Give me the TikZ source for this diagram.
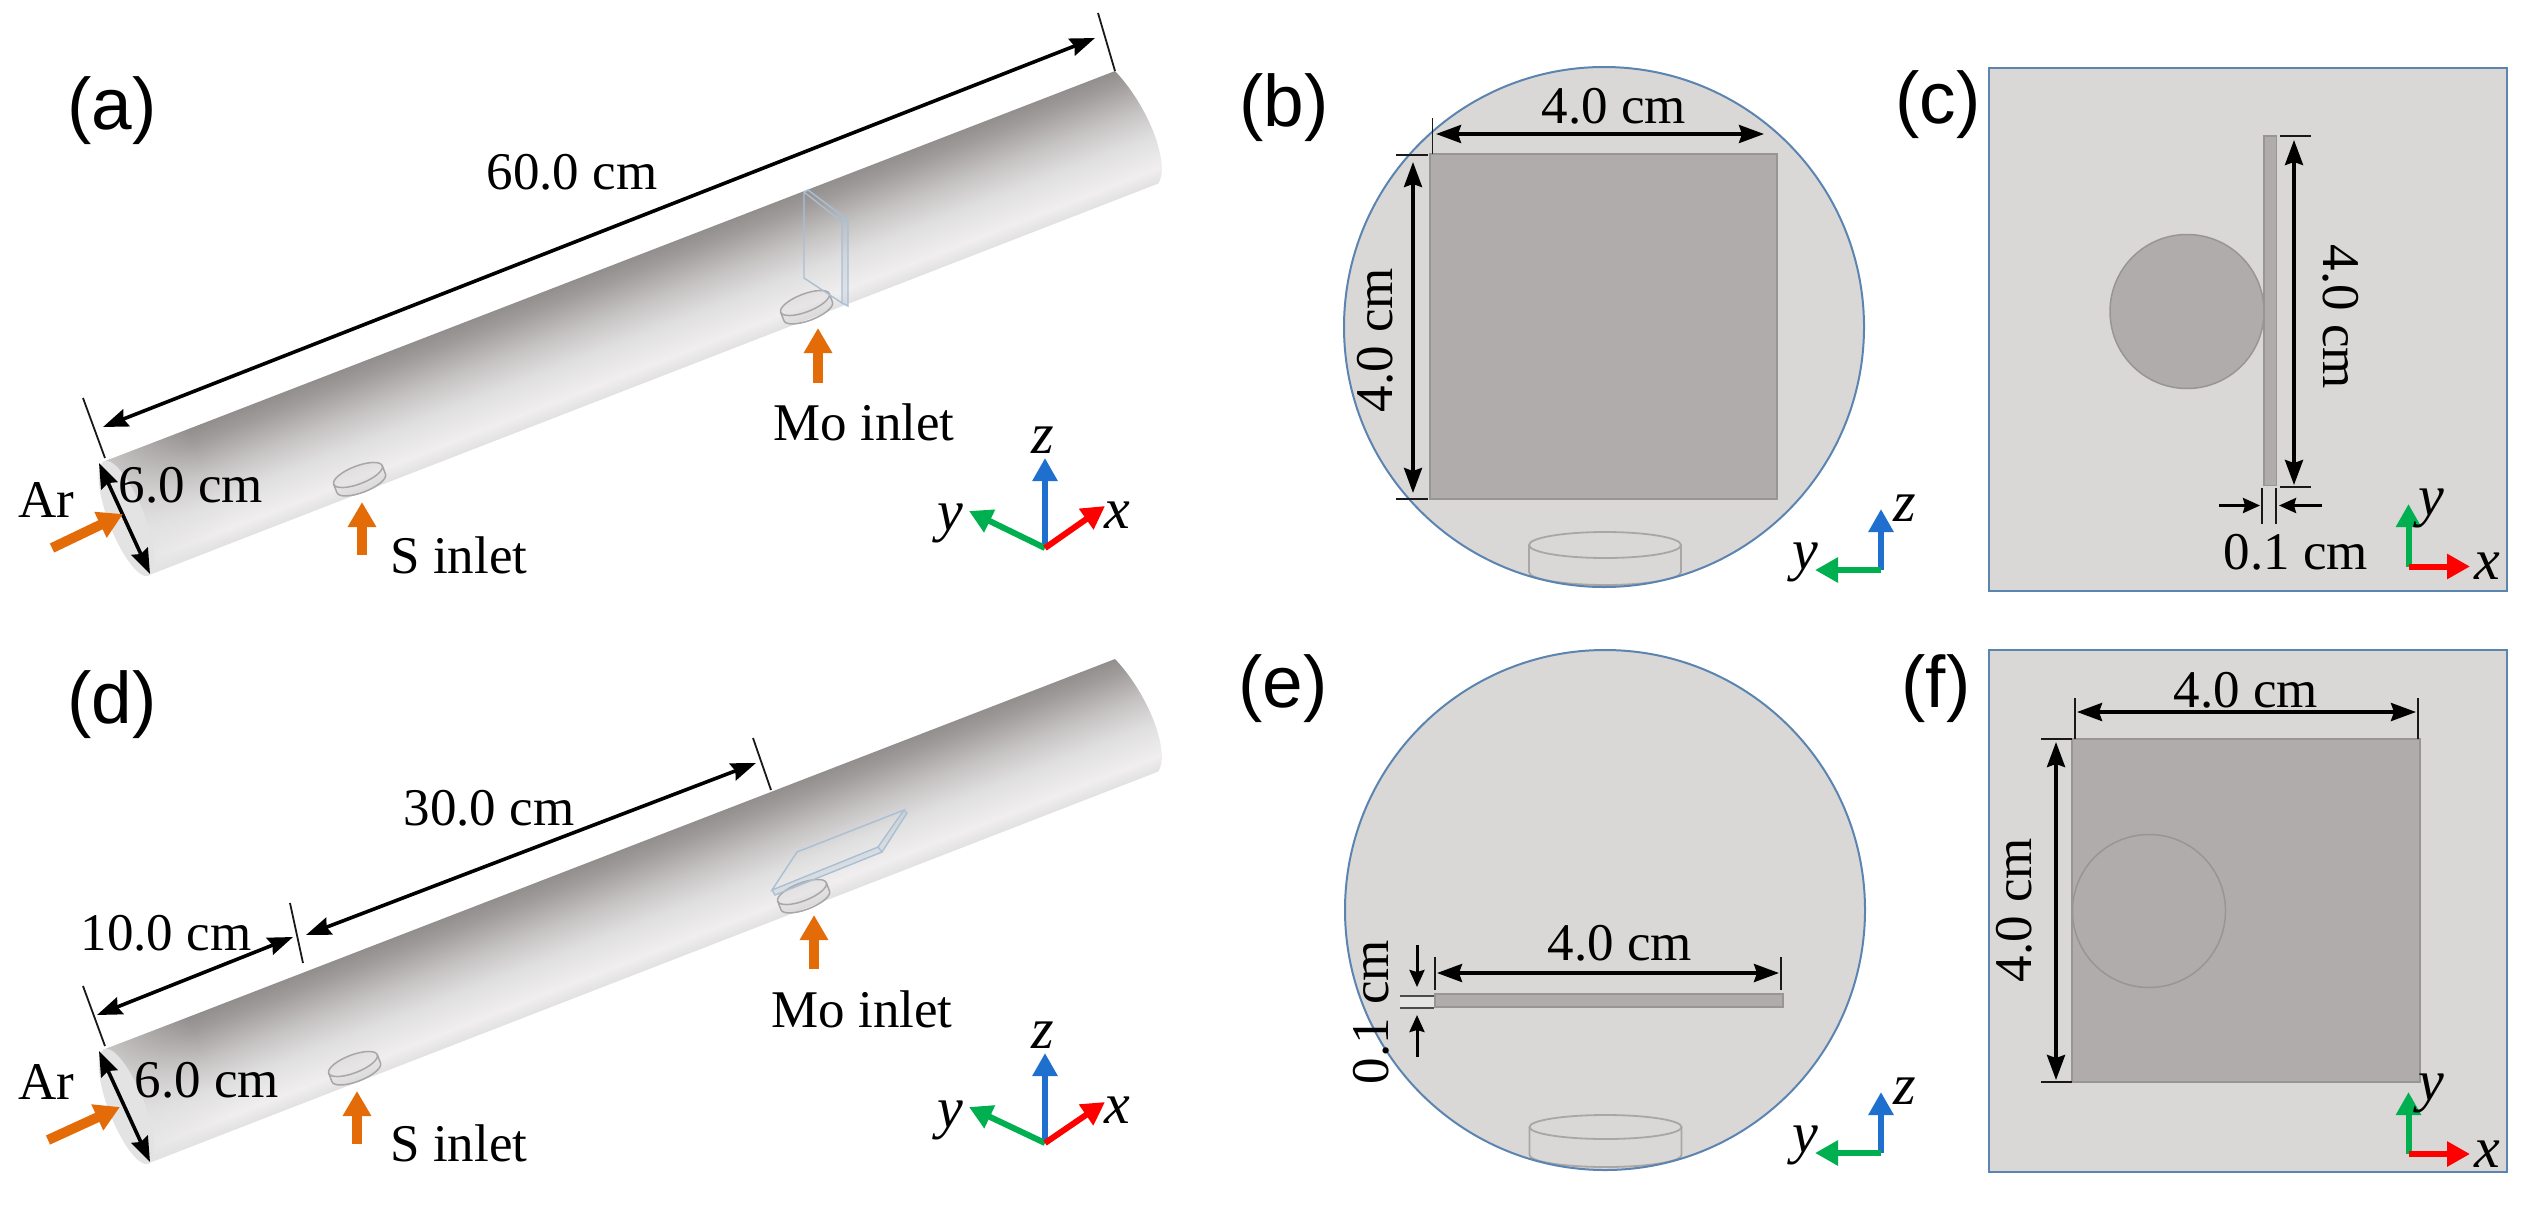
\documentclass[tikz,border=0pt]{standalone}
\usepackage{fontspec}
\setmainfont{Liberation Serif}
\newfontfamily\lblfont{Liberation Sans}
\usetikzlibrary{arrows.meta,fadings}
\definecolor{tA}{HTML}{E2E1E1}
\definecolor{tC}{HTML}{F0EEEE}
\definecolor{tD}{HTML}{E0DFDF}
\definecolor{tE}{HTML}{C5C2C2}
\definecolor{tF}{HTML}{A09B9B}
\definecolor{tG}{HTML}{938E8E}
\definecolor{capc}{HTML}{E4E3E3}
\definecolor{bgl}{HTML}{D9D8D7}
\definecolor{plt}{HTML}{B0ACAB}
\definecolor{pltl}{HTML}{989595}
\definecolor{frm}{HTML}{5B84B1}
\definecolor{org}{HTML}{E36C09}
\definecolor{axb}{HTML}{1F6FCE}
\definecolor{axg}{HTML}{00B050}
\definecolor{axr}{HTML}{FF0000}
\definecolor{dsc}{HTML}{A8A6A6}
\definecolor{pbl}{HTML}{A9BFD4}
\pgfdeclareverticalshading{tubeshade}{100bp}{color(0bp)=(tA); color(25bp)=(tA); color(31bp)=(tC); color(44bp)=(tD); color(56bp)=(tE); color(69bp)=(tF); color(75bp)=(tG); color(100bp)=(tG)}
\tikzset{
  x=1pt,y=-1pt,
  txt/.style={inner sep=0pt,font=\fontsize{53}{60}\selectfont},
  ital/.style={inner sep=0pt,font=\fontsize{58}{60}\selectfont\itshape},
  plabel/.style={inner sep=0pt,font=\fontsize{73}{80}\selectfont\lblfont},
  dimline/.style={line width=3.6pt,{Stealth[length=25pt,width=18pt,inset=3pt]}-{Stealth[length=25pt,width=18pt,inset=3pt]}},
  smallarrow/.style={line width=3pt,-{Stealth[length=17pt,width=15pt,inset=2pt]}},
  tick/.style={line width=1.8pt,black!90},
  orangearrow/.style={org,line width=10pt,-{Triangle[length=25pt,width=27pt]}},
  axz/.style={axb,line width=6pt,-{Triangle[length=23pt,width=24pt]}},
  axy/.style={axg,line width=6pt,-{Triangle[length=23pt,width=24pt]}},
  axx/.style={axr,line width=6pt,-{Triangle[length=23pt,width=24pt]}},
  frameline/.style={frm,line width=2pt},
  plate/.style={fill=plt,draw=pltl,line width=1.5pt},
  disc/.style={draw=dsc,line width=1.5pt},
  discb/.style={draw=dsc,line width=1.8pt},
  pblue/.style={draw=pbl,line width=1.4pt},
}
\newcommand\tubeat[1]{%
  \begin{scope}
    \clip (103,462+#1) -- (1115,71+#1) .. controls (1135,92+#1) and (1150,120+#1) .. (1157,142+#1) .. controls (1161,156+#1) and (1164,170+#1) .. (1160,180+#1) .. controls (1158,186+#1) and (1154,188+#1) .. (1150,190+#1) -- (150,575+#1) -- cycle;
    \begin{scope}[transform canvas={rotate around={21.2:(103,462+#1)}}]
      \shade[shading=tubeshade] (0,462+#1) rectangle (1300,584+#1);
      \fill[capc,path fading=east] (60,462+#1) rectangle (195,584+#1);
    \end{scope}
  \end{scope}
  \fill[capc,rotate around={21.2:(126.5,518.5+#1)}] (126.5,518.5+#1) ellipse [x radius=18pt,y radius=61.5pt];
}
\newcommand\discat[2]{%
  \begin{scope}[shift={(#1,#2)},rotate=21]
    \fill[dsc,opacity=.12] (-26,0) -- (-26,9) arc [start angle=180,end angle=360,x radius=26pt,y radius=9pt] -- (26,0) arc [start angle=0,end angle=180,x radius=26pt,y radius=9pt] -- cycle;
    \draw[disc] (-26,0) -- (-26,9) arc [start angle=180,end angle=360,x radius=26pt,y radius=9pt] -- (26,0);
    \draw[disc] (0,0) ellipse [x radius=26pt,y radius=9pt];
  \end{scope}
}
\newcommand\cylat[4]{% centre x, top y, radius y, height
  \begin{scope}[shift={(#1,#2)}]
    \draw[discb] (-76,0) -- (-76,#4) arc [start angle=180,end angle=360,x radius=76pt,y radius=#3pt] -- (76,0);
    \draw[discb] (0,0) ellipse [x radius=76pt,y radius=#3pt];
  \end{scope}
}
\begin{document}
\begin{tikzpicture}
\useasboundingbox (0,0) rectangle (2524,1205);
% ---------- panel a
\tubeat{0}
\discat{358}{475}
\discat{805}{303}
\fill[pbl,opacity=.25] (842,222) -- (848,220) -- (848,306) -- (842,303) -- cycle;
\draw[pblue] (804,192) -- (842,222) -- (842,303) -- (804,278) -- cycle;
\draw[pblue] (804,192) -- (808,190) -- (848,220) -- (848,306) -- (842,303) (842,222) -- (848,220);
\draw[tick] (83,398) -- (105,458);
\draw[tick] (1098,13) -- (1115,71);
\draw[dimline] (103,427) -- (1095,38);
\draw[dimline] (99,463) -- (150,574);
\node[txt] (lena) at (572,172) {60.0 cm};
\node[txt] (diaa) at (191,485) {6.0 cm};
\node[txt] (ara) at (46,500) {Ar};
\node[txt] (sa) at (459,555) {S inlet};
\node[txt] (moa) at (864,422) {Mo inlet};
\draw[orangearrow] (52,548) -- (123,514);
\draw[orangearrow] (362,555) -- (362,502);
\draw[orangearrow] (818,383) -- (818,328);
\draw[axz] (1045,548) -- (1045,458);
\draw[axy] (1045,548) -- (969,511);
\draw[axx] (1045,548) -- (1105,506);
\node[ital] (za) at (1043,440) {z};
\node[ital] (ya) at (950,523) {y};
\node[ital] (xa) at (1117,515) {x};
\node[plabel] (la) at (112,111) {(a)};
% ---------- panel b
\fill[bgl] (1604,327) circle [radius=260pt];
\fill[plate] (1430,154) rectangle (1777,499);
\begin{scope}
  \clip (1604,327) circle [radius=260pt];
  \cylat{1605}{545}{13}{27}
\end{scope}
\draw[frameline] (1604,327) circle [radius=260pt];
\draw[tick] (1432.5,118) -- (1432.5,154);
\draw[tick] (1396,155) -- (1428,155);
\draw[tick] (1396,499) -- (1428,499);
\draw[dimline] (1436,134) -- (1764,134);
\draw[dimline] (1413,162) -- (1413,493);
\node[txt] (wb) at (1614,106) {4.0 cm};
\node[txt,rotate=90] (hb) at (1375,340) {4.0 cm};
\draw[axz] (1881,570) -- (1881,509);
\draw[axy] (1881,570) -- (1815,570);
\node[ital] (zb) at (1905,508) {z};
\node[ital] (yb) at (1805,562) {y};
\node[plabel] (lb) at (1284,108) {(b)};
% ---------- panel c
\fill[bgl] (1988.5,68) rectangle (2506.5,591);
\draw[frameline] (1988.5,68) rectangle (2506.5,591);
\fill[plate] (2187,311.5) circle [radius=77pt];
\fill[plate] (2264,136) rectangle (2276.5,485.5);
\draw[tick] (2280,136) -- (2311,136);
\draw[tick] (2280,487) -- (2311,487);
\draw[tick] (2262,488) -- (2262,524);
\draw[tick] (2276,488) -- (2276,524);
\draw[dimline] (2294,140) -- (2294,485);
\draw[smallarrow] (2219,505.5) -- (2260,505.5);
\draw[smallarrow] (2322,505.5) -- (2279,505.5);
\node[txt,rotate=-90] (hc) at (2341,317) {4.0 cm};
\node[txt] (tc) at (2296,552) {0.1 cm};
\draw[axy] (2408.5,566.5) -- (2408.5,504);
\draw[axx] (2408.5,566.5) -- (2470,566.5);
\node[ital] (yc) at (2431,508) {y};
\node[ital] (xc) at (2487,566) {x};
\node[plabel] (lc) at (1938,105) {(c)};
% ---------- panel d
\tubeat{588}
\discat{353}{1064}
\discat{802}{892}
\fill[pbl,opacity=.25] (772,890) -- (878,847) -- (904,810) -- (907,813) -- (882,852) -- (775,895) -- cycle;
\draw[pblue] (797,852) -- (904,810) -- (878,847) -- (772,890) -- cycle;
\draw[pblue] (772,890) -- (775,895) -- (882,852) -- (907,813) -- (904,810) (878,847) -- (882,852);
\draw[tick] (83,986) -- (105,1046);
\draw[tick] (290,903) -- (303,963);
\draw[tick] (753,738) -- (771,790);
\draw[dimline] (97,1015) -- (293,937);
\draw[dimline] (306,935) -- (756,763);
\draw[dimline] (99,1051) -- (150,1162);
\node[txt] (lend) at (489,808) {30.0 cm};
\node[txt] (lene) at (166,933) {10.0 cm};
\node[txt] (diad) at (207,1080) {6.0 cm};
\node[txt] (ard) at (46,1082) {Ar};
\node[txt] (sd) at (459,1143) {S inlet};
\node[txt] (mod) at (862,1009) {Mo inlet};
\draw[orangearrow] (48,1140) -- (120,1107);
\draw[orangearrow] (357,1144) -- (357,1091);
\draw[orangearrow] (814,969) -- (814,915);
\draw[axz] (1045,1143) -- (1045,1053);
\draw[axy] (1045,1143) -- (969,1107);
\draw[axx] (1045,1143) -- (1105,1102);
\node[ital] (zd) at (1043,1035) {z};
\node[ital] (yd) at (950,1120) {y};
\node[ital] (xd) at (1117,1110) {x};
\node[plabel] (ld) at (112,705) {(d)};
% ---------- panel e
\fill[bgl] (1605,910) circle [radius=260pt];
\fill[plate] (1435,994) rectangle (1783,1007);
\begin{scope}
  \clip (1605,910) circle [radius=260pt];
  \cylat{1605.5}{1127}{12}{28}
\end{scope}
\draw[frameline] (1605,910) circle [radius=260pt];
\fill[bgl!70!white] (1400,996) rectangle (1434,1008);
\draw[line width=2.4pt,black!70] (1400,996) -- (1434,996);
\draw[line width=2.4pt,black!70] (1400,1008) -- (1434,1008);
\draw[tick] (1435,957) -- (1435,990);
\draw[tick] (1781,957) -- (1781,990);
\draw[dimline] (1437,973) -- (1779,973);
\draw[smallarrow] (1417,945) -- (1417,987);
\draw[smallarrow] (1417,1057) -- (1417,1015);
\node[txt] (we) at (1620,943) {4.0 cm};
\node[txt,rotate=90] (te) at (1371,1012) {0.1 cm};
\draw[axz] (1881,1153) -- (1881,1092);
\draw[axy] (1881,1153) -- (1815,1153);
\node[ital] (ze) at (1905,1091) {z};
\node[ital] (ye) at (1805,1145) {y};
\node[plabel] (le) at (1283,689) {(e)};
% ---------- panel f
\fill[bgl] (1988.5,650) rectangle (2506.5,1172);
\draw[frameline] (1988.5,650) rectangle (2506.5,1172);
\fill[plate] (2072,739) rectangle (2420,1082);
\draw[fill=plt,draw=pltl,line width=1.5pt] (2149,911) circle [radius=76.5pt];
\draw[tick] (2075,698) -- (2075,739);
\draw[tick] (2418,698) -- (2418,739);
\draw[tick] (2041,739) -- (2072,739);
\draw[tick] (2041,1082) -- (2072,1082);
\draw[dimline] (2077,712) -- (2416,712);
\draw[dimline] (2056,742) -- (2056,1080);
\node[txt] (wf) at (2246,690) {4.0 cm};
\node[txt,rotate=90] (hf) at (2014,910) {4.0 cm};
\draw[axy] (2408.5,1154) -- (2408.5,1092);
\draw[axx] (2408.5,1154) -- (2470,1154);
\node[ital] (yf) at (2431,1093) {y};
\node[ital] (xf) at (2487,1154) {x};
\node[plabel] (lf) at (1936,689) {(f)};
\end{tikzpicture}
\end{document}
